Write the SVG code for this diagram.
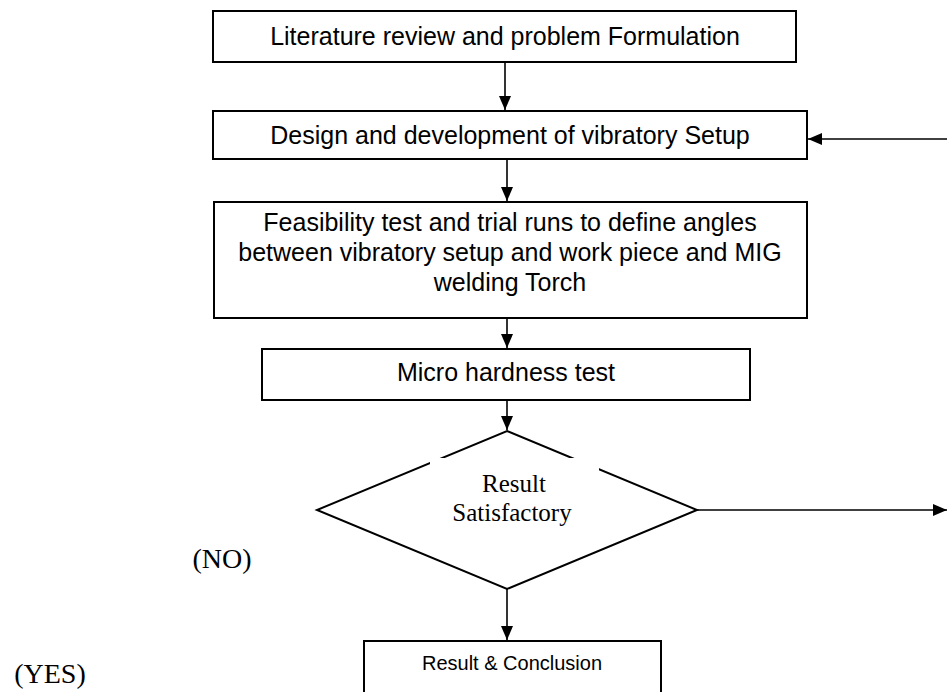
<svg xmlns="http://www.w3.org/2000/svg" width="947" height="692" viewBox="0 0 947 692">
<style>
.box{fill:#fff;stroke:#000;stroke-width:2}
.t{font-family:"Liberation Sans",Arial,sans-serif;font-size:25px;fill:#000;text-anchor:middle}
.s{font-family:"Liberation Serif","Times New Roman",serif;font-size:25px;fill:#000;text-anchor:middle}
.lbl{font-family:"Liberation Serif","Times New Roman",serif;font-size:28px;fill:#000;text-anchor:middle}
.c{stroke:#000;stroke-width:1.6;fill:none}
</style>
<defs>
<marker id="ah" viewBox="0 0 14 12" refX="14" refY="6" markerWidth="14" markerHeight="12" markerUnits="userSpaceOnUse" orient="auto">
<path d="M0,0 L14,6 L0,12 Z" fill="#000"/>
</marker>
</defs>
<rect width="947" height="692" fill="#fff"/>
<g id="connectors">
<line class="c" x1="505" y1="62" x2="505" y2="110" marker-end="url(#ah)"/>
<line class="c" x1="507" y1="159" x2="507" y2="201" marker-end="url(#ah)"/>
<line class="c" x1="507" y1="318" x2="507" y2="348" marker-end="url(#ah)"/>
<line class="c" x1="507" y1="400" x2="507" y2="430" marker-end="url(#ah)"/>
<line class="c" x1="507" y1="589" x2="507" y2="640" marker-end="url(#ah)"/>
<line class="c" x1="697" y1="510" x2="947" y2="510" marker-end="url(#ah)"/>
<line class="c" x1="947" y1="139" x2="808" y2="139" marker-end="url(#ah)"/>
</g>
<g id="n1">
<rect class="box" x="213" y="11" width="583" height="51"/>
<text class="t" x="505" y="45">Literature review and problem Formulation</text>
</g>
<g id="n2">
<rect class="box" x="213" y="111" width="594" height="48"/>
<text class="t" x="510" y="144">Design and development of vibratory Setup</text>
</g>
<g id="n3">
<rect class="box" x="214" y="202" width="593" height="116"/>
<text class="t" x="510" y="231">Feasibility test and trial runs to define angles</text>
<text class="t" x="510" y="261">between vibratory setup and work piece and MIG</text>
<text class="t" x="510" y="291">welding Torch</text>
</g>
<g id="n4">
<rect class="box" x="262" y="349" width="488" height="51"/>
<text class="t" x="506" y="381">Micro hardness test</text>
</g>
<g id="n5">
<polygon class="box" points="507,431 697,510 507,589 317,510"/>
<rect x="430" y="458" width="169" height="82" fill="#fff"/>
<text class="s" x="514" y="492">Result</text>
<text class="s" x="512" y="521">Satisfactory</text>
</g>
<g id="n6">
<rect class="box" x="364" y="641" width="297" height="80"/>
<text style="font-family:'Liberation Sans',Arial,sans-serif;font-size:20px;text-anchor:middle" x="512" y="670">Result &amp; Conclusion</text>
</g>
<g id="labels">
<text class="lbl" x="222" y="568">(NO)</text>
<text class="lbl" x="50" y="683">(YES)</text>
</g>
</svg>
